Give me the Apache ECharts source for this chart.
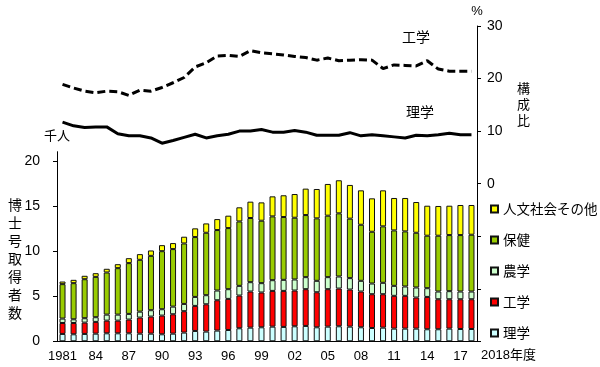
<!DOCTYPE html>
<html>
<head>
<meta charset="utf-8">
<script src="https://cdn.jsdelivr.net/npm/echarts@6/dist/echarts.min.js"></script>
<style>
html,body{margin:0;padding:0;background:#fff;}
#chart{width:600px;height:367px;}
</style>
</head>
<body>
<div id="chart"></div>
<script>
// ---- data ----
const years = ['1981','1982','1983','1984','1985','1986','1987','1988','1989','1990',
  '1991','1992','1993','1994','1995','1996','1997','1998','1999','2000',
  '2001','2002','2003','2004','2005','2006','2007','2008','2009','2010',
  '2011','2012','2013','2014','2015','2016','2017','2018'];
const xTickLabels = ['1981','84','87','90','93','96','99','02','05','08','11','14','17'];
const leftTicks = [0, 5, 10, 15, 20];
const rightLabels = [0, 10, 20, 30];

// 博士号取得者数（千人）
const rigaku = [.82,.78,.82,.85,.89,.89,.89,.85,.85,.78,.85,.97,1.15,1.08,1.19,1.26,1.45,1.52,1.56,1.63,1.60,1.67,1.71,1.56,1.63,1.67,1.63,1.56,1.48,1.52,1.41,1.41,1.41,1.34,1.34,1.41,1.37,1.37];
const kogaku = [1.22,1.26,1.26,1.31,1.41,1.41,1.53,1.79,1.90,2.08,2.16,2.38,2.79,3.04,3.38,3.46,3.64,4.02,3.87,3.98,4.01,3.98,4.09,3.90,4.17,4.20,4.13,3.98,3.76,3.72,3.65,3.65,3.46,3.60,3.34,3.27,3.31,3.31];
const nogaku = [.49,.41,.49,.52,.67,.67,.63,.66,.71,.71,.85,.81,1.00,1.01,1.08,1.08,1.08,1.04,1.04,1.19,1.23,1.23,1.34,1.27,1.34,1.34,1.27,1.19,1.19,1.27,1.11,1.04,1.12,.97,.86,.90,.86,.86];
const hoken = [3.83,4.02,4.34,4.49,4.69,5.17,5.65,5.77,6.05,6.46,6.40,6.73,6.66,6.95,6.73,6.80,7.17,7.14,6.95,7.10,6.99,6.87,6.91,6.95,6.84,7.03,6.62,6.24,5.76,6.28,6.17,6.13,6.09,5.84,6.21,6.24,6.28,6.32];
const jinbun = [.29,.37,.38,.41,.41,.44,.55,.63,.60,.67,.67,.75,.97,1.04,1.22,1.38,1.57,1.82,2.04,2.23,2.42,2.64,2.94,3.27,3.53,3.68,3.75,3.83,3.72,4.01,3.61,3.72,3.42,3.34,3.31,3.27,3.35,3.31];

// 構成比（%）
const kogakuShare = [18.9,18.2,17.6,17.3,17.6,17.5,16.8,17.8,17.6,18.3,19.2,20.2,22.2,23.0,24.3,24.4,24.2,25.3,24.9,24.7,24.5,24.2,24.0,23.5,23.9,23.4,23.5,23.6,23.5,21.9,22.6,22.5,22.4,23.4,21.8,21.4,21.4,21.4];
const rigakuShare = [11.7,11.0,10.7,10.8,10.8,9.5,9.1,9.1,8.7,7.7,8.2,8.8,9.4,8.7,9.1,9.4,10.0,10.0,10.3,9.8,9.8,10.1,9.8,9.2,9.2,9.2,9.7,9.1,9.3,9.1,8.9,8.7,9.2,9.1,9.3,9.6,9.3,9.3];

// ---- chart ----
const JP = "'Noto Sans CJK JP', sans-serif";
const NUM = "'Liberation Sans', Arial, sans-serif";
const chart = echarts.init(document.getElementById('chart'), null, {renderer: 'canvas'});

function barSeries(name, data, color) {
  return {
    name, type: 'bar', data, stack: 'total',
    xAxisIndex: 1, yAxisIndex: 1,
    barWidth: 6,
    itemStyle: {color, borderColor: '#111', borderWidth: 1},
    emphasis: {disabled: true}
  };
}

const option = {
  animation: false,
  backgroundColor: '#fff',
  grid: [
    {left: 57, right: 123, top: 26, bottom: 25.7},
    {left: 57, right: 123, top: 151.7, bottom: 25.7}
  ],
  xAxis: [
    {type: 'category', gridIndex: 0, data: years, boundaryGap: true, show: false},
    {type: 'category', gridIndex: 1, data: years, boundaryGap: true, position: 'bottom',
      axisLine: {show: true, lineStyle: {color: '#000', width: 1}},
      axisTick: {show: false},
      axisLabel: {interval: 0, margin: 9, color: '#000', fontSize: 13, fontFamily: NUM,
        formatter: (v, i) => (i % 3 === 0 && xTickLabels[i / 3] !== undefined) ? xTickLabels[i / 3] : ''}
    }
  ],
  yAxis: [
    {type: 'value', gridIndex: 0, position: 'right', min: -30, max: 30, interval: 10,
      name: '%', nameLocation: 'end', nameGap: 8,
      nameTextStyle: {color: '#000', fontSize: 13, fontFamily: NUM, align: 'center'},
      splitLine: {show: false},
      axisLine: {show: true, lineStyle: {color: '#000', width: 1}},
      axisTick: {show: true, length: 4, lineStyle: {color: '#000'}},
      axisLabel: {customValues: rightLabels, margin: 10, color: '#000', fontSize: 14, fontFamily: NUM}
    },
    {type: 'value', gridIndex: 1, position: 'left', min: 0, max: 21.1,
      splitLine: {show: false},
      axisLine: {show: true, lineStyle: {color: '#000', width: 1}},
      axisTick: {show: true, length: 4, customValues: leftTicks, lineStyle: {color: '#000'}},
      axisLabel: {customValues: leftTicks, margin: 17, color: '#000', fontSize: 14, fontFamily: NUM}
    }
  ],
  legend: {
    orient: 'vertical', left: 485, top: 196,
    data: ['人文社会その他', '保健', '農学', '工学', '理学'],
    icon: 'rect', itemWidth: 7, itemHeight: 7, itemGap: 15,
    textStyle: {color: '#000', fontSize: 13.5, lineHeight: 16, fontFamily: JP},
    selectedMode: false
  },
  series: [
    barSeries('理学', rigaku, '#ccffff'),
    barSeries('工学', kogaku, '#ff0000'),
    barSeries('農学', nogaku, '#ccffcc'),
    barSeries('保健', hoken, '#99cc00'),
    barSeries('人文社会その他', jinbun, '#ffff00'),
    {name: '工学構成比', type: 'line', data: kogakuShare, xAxisIndex: 0, yAxisIndex: 0,
      symbol: 'none', lineStyle: {color: '#000', width: 3, type: [8, 4]}},
    {name: '理学構成比', type: 'line', data: rigakuShare, xAxisIndex: 0, yAxisIndex: 0,
      symbol: 'none', lineStyle: {color: '#000', width: 3}}
  ],
  graphic: [
    {type: 'text', left: 402, top: 30, style: {text: '工学', font: "14px 'Noto Sans CJK JP'", fill: '#000'}},
    {type: 'text', left: 406, top: 105, style: {text: '理学', font: "14px 'Noto Sans CJK JP'", fill: '#000'}},
    {type: 'text', left: 517, top: 80, style: {text: '構\n成\n比', font: "13px 'Noto Sans CJK JP'", lineHeight: 16, fill: '#000'}},
    {type: 'text', left: 44, top: 129, style: {text: '千人', font: "13px 'Noto Sans CJK JP'", fill: '#000'}},
    {type: 'text', left: 8, top: 196, style: {text: '博\n士\n号\n取\n得\n者\n数', font: "14px 'Noto Sans CJK JP'", lineHeight: 18, fill: '#000'}},
    {type: 'text', left: 481, top: 349, style: {text: '2018年度', font: "13px 'Liberation Sans', 'Noto Sans CJK JP'", fill: '#000'}}
  ]
};
chart.setOption(option);
</script>
</body>
</html>
